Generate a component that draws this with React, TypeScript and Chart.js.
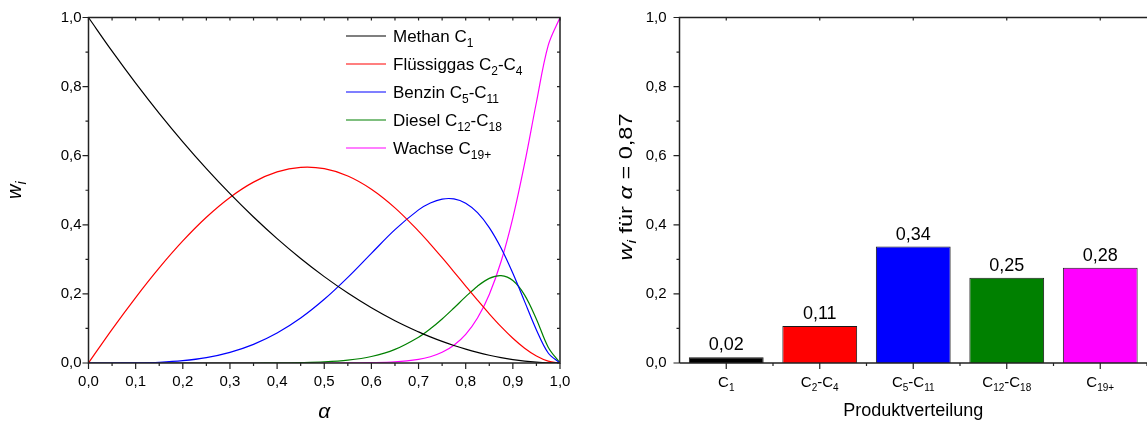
import React, { useEffect, useRef } from "react";
import { Chart, registerables } from "chart.js";

Chart.register(...registerables);

// ---------- data ----------
const alphaValues = [0, 0.05, 0.1, 0.15, 0.2, 0.25, 0.3, 0.35, 0.4, 0.45, 0.5, 0.55, 0.6, 0.65, 0.7, 0.725, 0.75, 0.775, 0.8, 0.825, 0.85, 0.875, 0.9, 0.925, 0.95, 0.975, 1];
const methan = [1, 0.9025, 0.81, 0.7225, 0.64, 0.5625, 0.49, 0.4225, 0.36, 0.3025, 0.25, 0.2025, 0.16, 0.1225, 0.09, 0.0756, 0.0625, 0.0506, 0.04, 0.0306, 0.0225, 0.0156, 0.01, 0.0056, 0.0025, 0.0006, 0];
const fluessiggas = [0, 0.0975, 0.1895, 0.2753, 0.3533, 0.4219, 0.4792, 0.5235, 0.553, 0.5663, 0.5625, 0.5413, 0.503, 0.4491, 0.3818, 0.3442, 0.3047, 0.264, 0.2227, 0.1819, 0.1423, 0.1051, 0.0715, 0.0427, 0.0201, 0.0053, 0];
const benzin = [0, 0.0, 0.0005, 0.0022, 0.0067, 0.0156, 0.0308, 0.0539, 0.0867, 0.1301, 0.1843, 0.2479, 0.3174, 0.386, 0.4432, 0.4631, 0.4744, 0.4749, 0.4624, 0.4351, 0.3918, 0.3326, 0.2595, 0.1776, 0.0958, 0.029, 0];
const diesel = [0, 0, 0, 0, 0, 0, 0, 0, 0.0003, 0.0011, 0.0031, 0.0081, 0.0188, 0.0393, 0.0746, 0.0989, 0.1274, 0.1591, 0.192, 0.2224, 0.245, 0.2529, 0.2387, 0.1966, 0.1269, 0.0458, 0];
const wachse = [0, 0, 0, 0, 0, 0, 0, 0, 0, 0, 0, 0.0002, 0.0008, 0.0031, 0.0104, 0.0182, 0.031, 0.0514, 0.0829, 0.1301, 0.1985, 0.2938, 0.4203, 0.5776, 0.7547, 0.9193, 1];

const seriesValues = [methan, fluessiggas, benzin, diesel, wachse];
const seriesLabels = ["Methan C_{1}", "Flüssiggas C_{2}-C_{4}", "Benzin C_{5}-C_{11}", "Diesel C_{12}-C_{18}", "Wachse C_{19+}"];
const seriesColors = ["#000000", "#ff0000", "#0000ff", "#008000", "#ff00ff"];

const categories = ["C_{1}", "C_{2}-C_{4}", "C_{5}-C_{11}", "C_{12}-C_{18}", "C_{19+}"];
const barValues = [0.017, 0.107, 0.337, 0.247, 0.276];
const barColors = ["#000000", "#ff0000", "#0000ff", "#008000", "#ff00ff"];

const FONT = 'Arial, "Liberation Sans", Helvetica, sans-serif';

type Seg = { t: string; sub?: boolean; it?: boolean };

const leftYTitle: Seg[] = [{ t: "w", it: true }, { t: "i", it: true, sub: true }];
const leftXTitle: Seg[] = [{ t: "α", it: true }];
const rightYTitle: Seg[] = [
  { t: "w", it: true },
  { t: "i", it: true, sub: true },
  { t: " für " },
  { t: "α", it: true },
  { t: " = 0,87" },
];
const rightXTitle: Seg[] = [{ t: "Produktverteilung" }];

function parseRich(s: string): Seg[] {
  const segs: Seg[] = [];
  const re = /_\{([^}]*)\}/g;
  let last = 0;
  let m: RegExpExecArray | null;
  while ((m = re.exec(s))) {
    if (m.index > last) segs.push({ t: s.slice(last, m.index) });
    segs.push({ t: m[1], sub: true });
    last = re.lastIndex;
  }
  if (last < s.length) segs.push({ t: s.slice(last) });
  return segs;
}

function segFont(s: Seg, size: number, subSize: number) {
  return `${s.it ? "italic " : ""}${s.sub ? subSize : size}px ${FONT}`;
}

function richWidth(ctx: CanvasRenderingContext2D, segs: Seg[], size: number, subSize: number) {
  let w = 0;
  for (const s of segs) {
    ctx.font = segFont(s, size, subSize);
    w += ctx.measureText(s.t).width;
  }
  return w;
}

function drawRich(
  ctx: CanvasRenderingContext2D,
  segs: Seg[],
  x: number,
  y: number,
  size: number,
  subSize: number,
  subDy: number,
  align: "left" | "center"
) {
  const w = richWidth(ctx, segs, size, subSize);
  let cx = align === "center" ? x - w / 2 : x;
  ctx.textAlign = "left";
  ctx.textBaseline = "alphabetic";
  for (const s of segs) {
    ctx.font = segFont(s, size, subSize);
    ctx.fillText(s.t, cx, y + (s.sub ? subDy : 0));
    cx += ctx.measureText(s.t).width;
  }
}

const fmt1 = (v: number | string) => Number(v).toFixed(1).replace(".", ",");
const fmt2 = (v: number) => v.toFixed(2).replace(".", ",");

const AXIS_COLOR = "#222222";

const leftDecor = {
  id: "leftDecor",
  afterDraw(chart: any) {
    const { ctx, chartArea: a, scales } = chart;
    const x = scales.x;
    const y = scales.y;
    ctx.save();
    ctx.strokeStyle = AXIS_COLOR;
    ctx.lineWidth = 1.5;
    ctx.strokeRect(a.left, a.top, a.right - a.left, a.bottom - a.top);
    ctx.lineWidth = 1.2;
    ctx.beginPath();
    for (let i = 0; i <= 20; i++) {
      const px = x.getPixelForValue(i / 20);
      const len = i % 2 === 0 ? 6 : 3;
      ctx.moveTo(px, a.bottom);
      ctx.lineTo(px, a.bottom + len);
      ctx.moveTo(px, a.top);
      ctx.lineTo(px, a.top + 3);
    }
    for (let i = 0; i <= 10; i++) {
      const py = y.getPixelForValue(i / 10);
      const len = i % 2 === 0 ? 6 : 3;
      ctx.moveTo(a.left, py);
      ctx.lineTo(a.left - len, py);
      ctx.moveTo(a.right, py);
      ctx.lineTo(a.right - 3, py);
    }
    ctx.stroke();

    // legend
    ctx.fillStyle = "#000";
    seriesLabels.forEach((lab, i) => {
      const base = 42 + 28 * i;
      ctx.strokeStyle = seriesColors[i];
      ctx.lineWidth = 1.2;
      ctx.beginPath();
      ctx.moveTo(346, base - 6);
      ctx.lineTo(386, base - 6);
      ctx.stroke();
      drawRich(ctx, parseRich(lab), 393, base, 17, 12, 5, "left");
    });

    // titles
    drawRich(ctx, leftXTitle, (a.left + a.right) / 2, 418, 21, 14, 5, "center");
    ctx.translate(21, (a.top + a.bottom) / 2);
    ctx.rotate(-Math.PI / 2);
    drawRich(ctx, leftYTitle, 0, 0, 20, 14, 5, "center");
    ctx.restore();
  },
};

const rightDecor = {
  id: "rightDecor",
  afterDraw(chart: any) {
    const { ctx, chartArea: a, scales } = chart;
    const x = scales.x;
    const y = scales.y;
    ctx.save();
    ctx.strokeStyle = AXIS_COLOR;
    ctx.lineWidth = 1.5;
    ctx.beginPath();
    ctx.moveTo(a.left, a.bottom);
    ctx.lineTo(a.left, a.top);
    ctx.lineTo(a.right + 2, a.top);
    ctx.moveTo(a.left, a.bottom);
    ctx.lineTo(a.right + 2, a.bottom);
    ctx.stroke();
    ctx.lineWidth = 1.2;
    ctx.beginPath();
    for (let i = 0; i <= 10; i++) {
      const py = y.getPixelForValue(i / 10);
      const len = i % 2 === 0 ? 6 : 3;
      ctx.moveTo(a.left, py);
      ctx.lineTo(a.left - len, py);
    }
    for (let i = 0; i < categories.length; i++) {
      const px = x.getPixelForValue(i);
      ctx.moveTo(px, a.bottom);
      ctx.lineTo(px, a.bottom + 6);
      ctx.moveTo(px, a.top);
      ctx.lineTo(px, a.top + 3);
      const pb = x.getPixelForValue(i + 0.5);
      ctx.moveTo(pb, a.bottom);
      ctx.lineTo(pb, a.bottom + 3);
    }
    ctx.stroke();

    ctx.fillStyle = "#000";
    // category labels
    categories.forEach((c, i) => {
      drawRich(ctx, parseRich(c), x.getPixelForValue(i), 387, 15, 10, 4, "center");
    });
    // value labels
    const meta = chart.getDatasetMeta(0);
    meta.data.forEach((el: any, i: number) => {
      drawRich(ctx, [{ t: fmt2(barValues[i]) }], el.x, el.y - 7, 18, 12, 0, "center");
    });
    // titles
    drawRich(ctx, rightXTitle, (a.left + a.right) / 2, 416, 18, 12, 0, "center");
    ctx.save();
    ctx.translate(632 - 575, 187);
    ctx.rotate(-Math.PI / 2);
    const w = richWidth(ctx, rightYTitle, 18, 12);
    ctx.scale(147 / w, 1);
    drawRich(ctx, rightYTitle, 0, 0, 18, 12, 4, "center");
    ctx.restore();
    ctx.restore();
  },
};

export default function App() {
  const leftRef = useRef<HTMLCanvasElement>(null);
  const rightRef = useRef<HTMLCanvasElement>(null);

  useEffect(() => {
    Chart.defaults.font.family = FONT;
    Chart.defaults.color = "#000";

    const tickFont = { family: FONT, size: 15 };

    const left = new Chart(leftRef.current as HTMLCanvasElement, {
      type: "line",
      data: {
        datasets: seriesValues.map((vals, i) => ({
          label: seriesLabels[i],
          data: alphaValues.map((a, j) => ({ x: a, y: vals[j] })),
          borderColor: seriesColors[i],
          backgroundColor: seriesColors[i],
          borderWidth: 1.2,
          pointRadius: 0,
          tension: 0.35,
          fill: false,
        })),
      },
      options: {
        responsive: false,
        animation: false,
        devicePixelRatio: 1,
        layout: { padding: { left: 0, right: 15, top: 17.5, bottom: 0 } },
        plugins: { legend: { display: false }, tooltip: { enabled: false } },
        scales: {
          x: {
            type: "linear",
            min: 0,
            max: 1,
            grid: { display: false, drawTicks: false },
            border: { display: false },
            ticks: { stepSize: 0.1, autoSkip: false, maxRotation: 0, padding: 10, font: tickFont, color: "#000", callback: (v: any) => fmt1(v) },
            afterFit: (s: any) => {
              s.height = 60;
              s.paddingLeft = 0;
              s.paddingRight = 0;
            },
          },
          y: {
            min: 0,
            max: 1,
            grid: { display: false, drawTicks: false },
            border: { display: false },
            ticks: { stepSize: 0.2, padding: 7, font: tickFont, color: "#000", callback: (v: any) => fmt1(v) },
            afterFit: (s: any) => {
              s.width = 88.5;
              s.paddingTop = 0;
              s.paddingBottom = 0;
            },
          },
        },
      },
      plugins: [leftDecor],
    } as any);

    const right = new Chart(rightRef.current as HTMLCanvasElement, {
      type: "bar",
      data: {
        labels: categories,
        datasets: [
          {
            data: barValues,
            backgroundColor: barColors,
            borderColor: "#1a1a1a",
            borderWidth: 1,
            barPercentage: 0.8,
            categoryPercentage: 1,
          },
        ],
      },
      options: {
        responsive: false,
        animation: false,
        devicePixelRatio: 1,
        layout: { padding: { left: 0, right: 0, top: 17.5, bottom: 0 } },
        plugins: { legend: { display: false }, tooltip: { enabled: false } },
        scales: {
          x: {
            grid: { display: false, drawTicks: false },
            border: { display: false },
            ticks: { display: false },
            afterFit: (s: any) => {
              s.height = 60;
              s.paddingLeft = 0;
              s.paddingRight = 0;
            },
          },
          y: {
            min: 0,
            max: 1,
            grid: { display: false, drawTicks: false },
            border: { display: false },
            ticks: { stepSize: 0.2, padding: 13, font: tickFont, color: "#000", callback: (v: any) => fmt1(v) },
            afterFit: (s: any) => {
              s.width = 104.5;
              s.paddingTop = 0;
              s.paddingBottom = 0;
            },
          },
        },
      },
      plugins: [rightDecor],
    } as any);

    return () => {
      left.destroy();
      right.destroy();
    };
  }, []);

  return (
    <div style={{ position: "absolute", left: 0, top: 0, width: 1147, height: 423, background: "#fff", overflow: "hidden" }}>
      <canvas ref={leftRef} width={575} height={423} style={{ position: "absolute", left: 0, top: 0, width: 575, height: 423 }} />
      <canvas ref={rightRef} width={572} height={423} style={{ position: "absolute", left: 575, top: 0, width: 572, height: 423 }} />
    </div>
  );
}
